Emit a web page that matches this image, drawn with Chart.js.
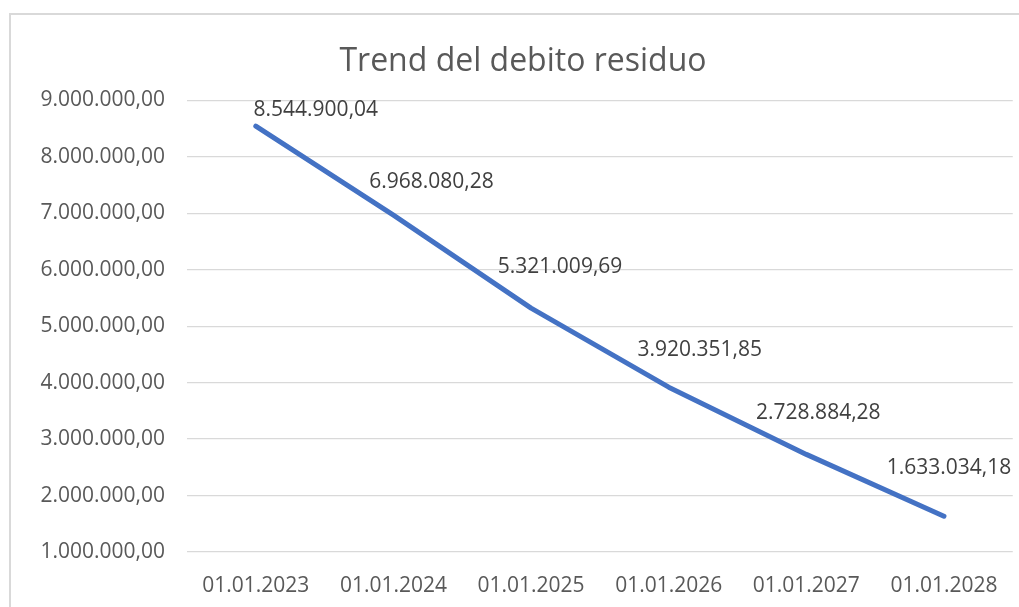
<!DOCTYPE html>
<html>
<head>
<meta charset="utf-8">
<script src="https://cdn.jsdelivr.net/npm/chart.js@4"></script>
<style>
  html, body { margin: 0; padding: 0; background: #ffffff; overflow: hidden; }
  canvas { display: block; }
</style>
</head>
<body>
<canvas id="c" width="1019" height="607"></canvas>
<script>
const categories = ["01.01.2023", "01.01.2024", "01.01.2025", "01.01.2026", "01.01.2027", "01.01.2028"];
const debitoResiduo = [8544900.04, 6968080.28, 5321009.69, 3920351.85, 2728884.28, 1633034.18];
const yTicks = [1000000, 2000000, 3000000, 4000000, 5000000, 6000000, 7000000, 8000000, 9000000];
const titleText = "Trend del debito residuo";

function fmtIt(v) {
  const neg = v < 0;
  const parts = Math.abs(v).toFixed(2).split(".");
  const intPart = parts[0].replace(/\B(?=(\d{3})+(?!\d))/g, ".");
  return (neg ? "-" : "") + intPart + "," + parts[1];
}

const FONT = "'Open Sans', 'Noto Sans', sans-serif";
const TXT = 21;

const frame = {
  id: "frame",
  beforeDraw(chart) {
    const ctx = chart.ctx;
    ctx.save();
    ctx.strokeStyle = "#d9d9d9";
    ctx.lineWidth = 2;
    ctx.beginPath();
    ctx.moveTo(10, 607);
    ctx.lineTo(10, 14);
    ctx.lineTo(1019, 14);
    ctx.stroke();
    ctx.restore();
  }
};

const labelOffsets = [[60, -16], [38, -33], [29, -41], [31, -37], [12, -41], [5, -48]];

const dataLabels = {
  id: "dataLabels",
  afterDatasetsDraw(chart) {
    const ctx = chart.ctx;
    const meta = chart.getDatasetMeta(0);
    ctx.save();
    ctx.font = TXT + "px " + FONT;
    ctx.fillStyle = "#404040";
    ctx.textAlign = "center";
    ctx.textBaseline = "middle";
    meta.data.forEach((pt, i) => {
      const off = labelOffsets[i] || [0, -20];
      ctx.fillText(fmtIt(chart.data.datasets[0].data[i]), pt.x + off[0], pt.y + off[1]);
    });
    ctx.restore();
  }
};

new Chart(document.getElementById("c"), {
  type: "line",
  data: {
    labels: categories,
    datasets: [{
      label: "Debito residuo",
      data: debitoResiduo,
      borderColor: "#4472C4",
      backgroundColor: "#4472C4",
      borderWidth: 5,
      borderCapStyle: "round",
      borderJoinStyle: "round",
      pointRadius: 0,
      pointHoverRadius: 0,
      tension: 0,
      fill: false
    }]
  },
  options: {
    responsive: false,
    animation: false,
    events: [],
    layout: { padding: { left: 33, right: 6, top: 14, bottom: 0 } },
    plugins: {
      legend: { display: false },
      tooltip: { enabled: false },
      title: {
        display: true,
        text: titleText,
        color: "#595959",
        font: { family: FONT, size: 32, weight: "normal" },
        padding: { top: 29, bottom: 19 }
      }
    },
    scales: {
      x: {
        offset: true,
        grid: { display: false, drawTicks: false },
        border: { display: false },
        ticks: {
          color: "#595959",
          font: { family: FONT, size: TXT },
          padding: 21,
          maxRotation: 0,
          autoSkip: false
        },
        afterFit(scale) { scale.height = 55; }
      },
      y: {
        min: 1000000,
        max: 9000000,
        afterBuildTicks(scale) { scale.ticks = yTicks.map(v => ({ value: v })); },
        grid: { color: "#d9d9d9", lineWidth: 1.3, drawTicks: false },
        border: { display: false },
        ticks: {
          color: "#595959",
          font: { family: FONT, size: TXT },
          padding: 22,
          callback: (v) => fmtIt(v)
        },
        afterFit(scale) { scale.width = 154; }
      }
    }
  },
  plugins: [frame, dataLabels]
});
</script>
</body>
</html>
